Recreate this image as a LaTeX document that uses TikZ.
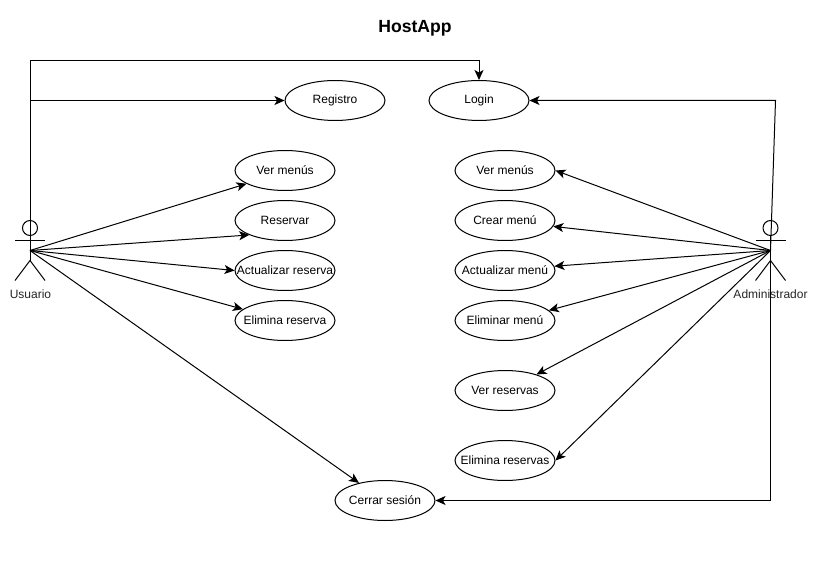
\documentclass[tikz,border=0pt]{standalone}
\usepackage{fontspec}
\setmainfont{Liberation Sans}
\usetikzlibrary{shapes.geometric,arrows.meta}
\tikzset{
  uc/.style={ellipse,draw=black,line width=1pt,fill=white,minimum width=100pt,minimum height=40pt,inner sep=0pt,font=\fontsize{12}{14}\selectfont},
  conn/.style={draw=black,line width=1pt,-{Stealth[length=10pt,width=9pt,inset=2.5pt]}},
  limb/.style={draw=black,line width=1pt},
  lbl/.style={inner sep=0pt,font=\fontsize{12}{14}\selectfont,text=black!85},
}
\newcommand{\uctext}[1]{\makebox[0pt][c]{#1}}
\begin{document}
\begin{tikzpicture}[x=1pt,y=-1pt]
\useasboundingbox[fill=white] (0,-0.5) rectangle (818,560.5);
\node[inner sep=0pt,font=\fontsize{17.6}{20}\selectfont\bfseries] (title) at (415,28) {HostApp};
% use cases
\node[uc] (reg) at (335,100) {\uctext{Registro}};
\node[uc] (log) at (479,100) {\uctext{Login}};
\node[uc] (u1) at (285,170) {\uctext{Ver menús}};
\node[uc] (u2) at (285,220) {\uctext{Reservar}};
\node[uc] (u3) at (285,270) {\uctext{Actualizar reserva}};
\node[uc] (u4) at (285,320) {\uctext{Elimina reserva}};
\node[uc] (a1) at (505,170) {\uctext{Ver menús}};
\node[uc] (a2) at (505,220) {\uctext{Crear menú}};
\node[uc] (a3) at (505,270) {\uctext{Actualizar menú}};
\node[uc] (a4) at (505,320) {\uctext{Eliminar menú}};
\node[uc] (a5) at (505,390) {\uctext{Ver reservas}};
\node[uc] (a6) at (505,460) {\uctext{Elimina reservas}};
\node[uc] (cs) at (385,500) {\uctext{Cerrar sesión}};
% actors
\node[circle,draw=black,line width=1pt,minimum size=15pt,inner sep=0pt] (uh) at (30,227.5) {};
\coordinate (uc) at (30,250);
\coordinate (uf) at (30,260);
\draw[limb] (uh.south) -- (uf);
\draw[limb] (15,240) -- (45,240);
\draw[limb] (15,280) -- (uf) -- (45,280);
\node[lbl] (ul) at (30.5,293.5) {Usuario};
\node[circle,draw=black,line width=1pt,minimum size=15pt,inner sep=0pt] (ah) at (770.5,227.5) {};
\coordinate (ac) at (770.5,250);
\coordinate (af) at (770.5,260);
\draw[limb] (ah.south) -- (af);
\draw[limb] (755.5,240) -- (785.5,240);
\draw[limb] (755.5,280) -- (af) -- (785.5,280);
\node[lbl] (al) at (770.5,293.5) {Administrador};
% connectors
\coordinate (c1) at (30,60);
\coordinate (c2) at (30,100);
\coordinate (c3) at (775.5,100);
\coordinate (c4) at (770.5,500);
\draw[conn] (uc) -- (c1) -| (log.north);
\draw[conn] (c2) -- (reg.west);
\draw[conn] (ac) -- (c3) -- (log.east);
\draw[conn] (ac) -- (c4) -- (cs.east);
\draw[conn] (uc) -- (u1.199.7);
\draw[conn] (uc) -- (u2.202);
\draw[conn] (uc) -- (u3.west);
\draw[conn] (uc) -- (u4.165);
\draw[conn] (uc) -- (cs.146);
\draw[conn] (ac) -- (a1.east);
\draw[conn] (ac) -- (a2.-7);
\draw[conn] (ac) -- (a3.5);
\draw[conn] (ac) -- (a4.13);
\draw[conn] (ac) -- (a5.27);
\draw[conn] (ac) -- (a6.east);
\end{tikzpicture}
\end{document}
